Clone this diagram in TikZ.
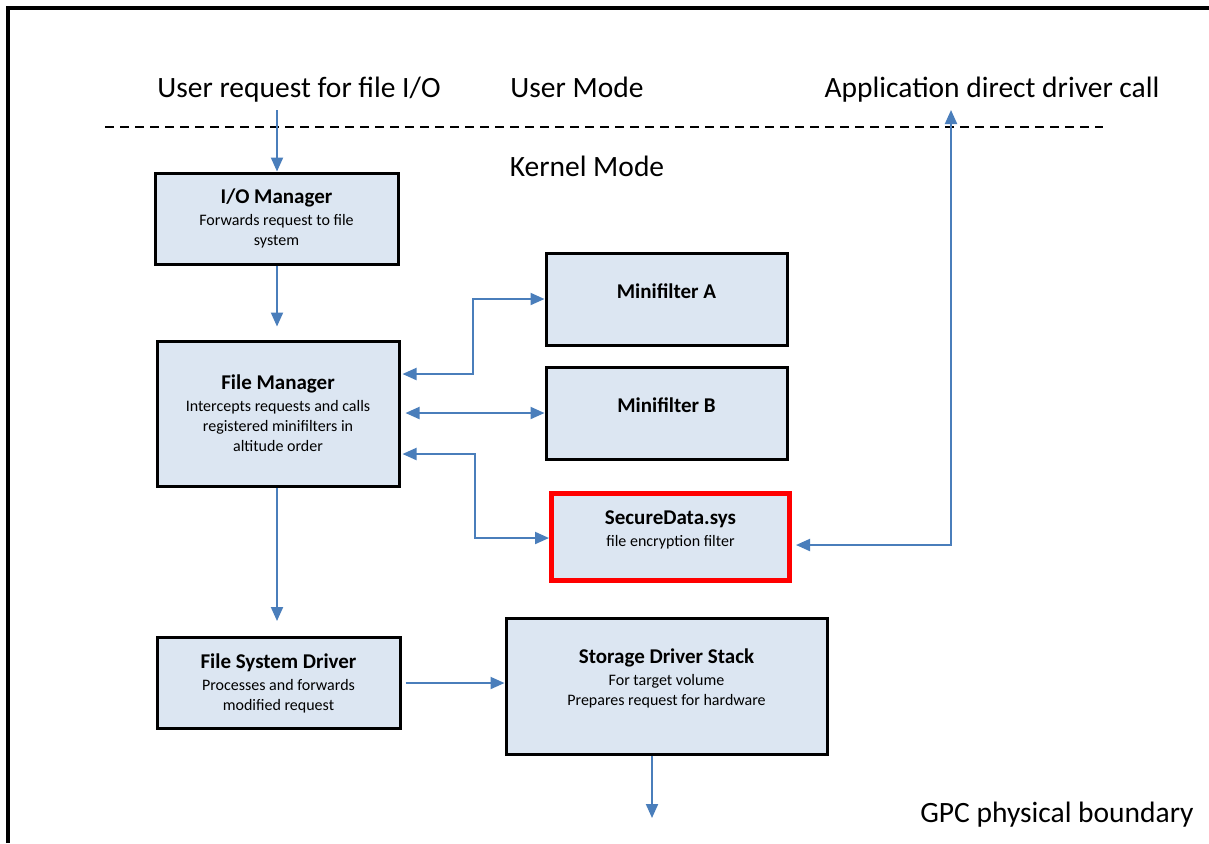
\documentclass[tikz,border=0pt]{standalone}
\usepackage{fontspec}
\setmainfont{Carlito}
\usetikzlibrary{arrows.meta}

\definecolor{boxfill}{RGB}{220,230,242}
\definecolor{linkblue}{RGB}{74,126,187}

\tikzset{
  box/.style={draw, line width=1.5pt, fill=boxfill, align=center, inner sep=2pt,
    font=\fontsize{8}{10}\selectfont},
  hot/.style={box, draw=red, line width=2.5pt},
  link/.style={draw=linkblue, line width=1pt, -{Triangle[length=7pt,width=6pt]}},
  both/.style={link, {Triangle[length=7pt,width=6pt]}-{Triangle[length=7pt,width=6pt]}},
  zone/.style={font=\fontsize{14.75}{17}\selectfont, inner sep=0pt, text height=10pt, text depth=3pt}
}
\newcommand{\boxtitle}[1]{{\fontsize{10.5}{12}\selectfont\bfseries #1}}

\begin{document}
\begin{tikzpicture}[x=0.5pt, y=-0.5pt]
  \def\Xl{277};   % left column arrows
  \def\Xa{473};   % joint to minifilter A
  \def\Xs{475};   % joint to SecureData
  \def\Xapp{951}; % direct driver call
  \useasboundingbox (0,0) rectangle (1209,843);

  % GPC boundary and mode line
  \draw[line width=1.6pt] (8,843) -- (8,8) -- (1209,8);
  \draw[line width=0.7pt, dash pattern=on 4.5pt off 3pt] (105,127) -- (1103,127);

  \node[zone] (ureq)  at (299,90)  {User request for file I/O};
  \node[zone] (umode) at (577,90)  {User Mode};
  \node[zone] (app)   at (992,90)  {Application direct driver call};
  \node[zone] (kmode) at (587,169) {Kernel Mode};
  \node[zone] (gpc)   at (1057,815) {GPC physical boundary};

  % boxes
  \node[box, minimum width=121.5pt, minimum height=45.5pt] (io) at (276.5,218.5)
       {\boxtitle{I/O Manager}\\[1pt] Forwards request to file\\ system};
  \node[box, minimum width=121pt, minimum height=72.5pt] (fm) at (278,413.5)
       {\boxtitle{File Manager}\\[1pt] Intercepts requests and calls\\ registered minifilters in\\ altitude order};
  \node[box, minimum width=120.5pt, minimum height=46pt, text depth=8pt] (mfa) at (666.5,299)
       {\boxtitle{Minifilter A}};
  \node[box, minimum width=120.5pt, minimum height=46pt, text depth=8pt] (mfb) at (666.5,413)
       {\boxtitle{Minifilter B}};
  \node[hot, minimum width=119pt, minimum height=43.5pt, text depth=8pt] (sec) at (670.5,537)
       {\boxtitle{SecureData.sys}\\[1pt] file encryption filter};
  \node[box, minimum width=121.5pt, minimum height=45.5pt] (fsd) at (278.5,683)
       {\boxtitle{File System Driver}\\[1pt] Processes and forwards\\ modified request};
  \node[box, minimum width=160.5pt, minimum height=68pt, text depth=9pt] (sds) at (666.5,686)
       {\boxtitle{Storage Driver Stack}\\[1pt] For target volume\\ Prepares request for hardware};

  % free ends
  \coordinate (ioin)  at (\Xl,110);
  \coordinate (appout) at (\Xapp,110);
  \coordinate (hw)    at (652,818);

  % request path
  \draw[link] (ioin) -- (io.north -| ioin);
  \draw[link, shorten >=6.5pt] (io.south -| ioin) -- (fm.north -| ioin);
  \draw[link, shorten >=7.5pt] (fm.south -| ioin) -- (fsd.north -| ioin);
  \draw[link, shorten <=2pt] (fsd.east) -- (sds.west |- fsd.east);
  \draw[link] (sds.south -| hw) -- (hw);

  % minifilters
  \draw[both, shorten <=1pt] (fm.east |- 0,374) -| (\Xa,299) -- (mfa.west);
  \draw[both, shorten <=2.5pt] (fm.east |- mfb.west) -- (mfb.west);
  \draw[both, shorten <=1pt] (fm.east |- 0,454) -| (\Xs,538) -- (sec.west |- 0,538);

  % direct call
  \draw[both, shorten <=2pt] (sec.east |- 0,545) -| (appout);
\end{tikzpicture}
\end{document}
